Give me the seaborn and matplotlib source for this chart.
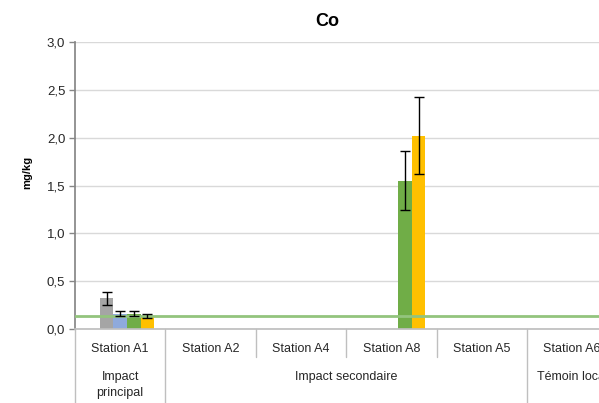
import matplotlib
matplotlib.use("Agg")
import matplotlib.pyplot as plt
import matplotlib.transforms as mtransforms
import seaborn as sns
import pandas as pd
import numpy as np

sns.set_theme(style="white")
plt.rcParams["font.family"] = ["Liberation Sans", "DejaVu Sans"]

# Stations along the x axis and the groups they belong to
stations = ["Station A1", "Station A2", "Station A4", "Station A8", "Station A5", "Station A6"]
groups = ["Impact\nprincipal", "Impact secondaire", "Témoin local"]
group_spans = [(0, 0), (1, 4), (5, 5)]

# Sampling campaigns (first one has no Co result)
campaigns = ["Campagne 1", "Campagne 2", "Campagne 3", "Campagne 4", "Campagne 5"]
colors = ["#5B9BD5", "#A5A5A5", "#8FAADC", "#70AD47", "#FFC000"]

# Mean Co concentrations (mg/kg) and standard deviations
bar_station = ["Station A1", "Station A1", "Station A1", "Station A1", "Station A8", "Station A8"]
bar_campaign = ["Campagne 2", "Campagne 3", "Campagne 4", "Campagne 5", "Campagne 4", "Campagne 5"]
bar_value = [0.32, 0.16, 0.16, 0.135, 1.55, 2.02]
bar_sd = [0.07, 0.025, 0.025, 0.02, 0.31, 0.40]

# Reference threshold
threshold = 0.14

df = pd.DataFrame({"station": bar_station, "campagne": bar_campaign,
                   "value": bar_value, "sd": bar_sd})

fig = plt.figure(figsize=(5.99, 4.03), dpi=100)
ax = fig.add_axes([75 / 599, 1 - 329 / 403, 542.4 / 599, 287 / 403])

sns.barplot(data=df, x="station", y="value", hue="campagne", order=stations,
            hue_order=campaigns, palette=colors, width=0.75, dodge=True,
            errorbar=None, legend=False, saturation=1, linewidth=0,
            ax=ax, zorder=2)

# Error bars placed on each drawn bar
n = len(campaigns)
sd_lookup = {(s, c): e for s, c, e in zip(bar_station, bar_campaign, bar_sd)}
for p in ax.patches:
    h = p.get_height()
    if not np.isfinite(h) or h == 0:
        continue
    w = p.get_width()
    xc = p.get_x() + w / 2
    ci = int(round(xc))
    hi = int(round((xc - ci) / w + (n - 1) / 2))
    err = sd_lookup.get((stations[ci], campaigns[hi]))
    if err is not None:
        ax.errorbar(xc, h, yerr=err, fmt="none", ecolor="black", elinewidth=1,
                    capsize=3.5, capthick=1, zorder=4)

ax.axhline(threshold, color="#93C47D", lw=2, zorder=3)

ax.set_xlim(-0.5, len(stations) - 0.5)
ax.set_ylim(0, 3.0)
ax.set_yticks(np.arange(0, 3.01, 0.5))
ax.set_yticklabels([f"{v:.1f}".replace(".", ",") for v in np.arange(0, 3.01, 0.5)],
                   fontsize=9.5, color="#262626")
ax.yaxis.grid(True, color="#D9D9D9", lw=1)
ax.set_axisbelow(True)
ax.tick_params(axis="y", left=True, length=4, width=1, color="#868686", pad=3)
ax.set_xticks([])
ax.set_xlabel("")
ax.set_ylabel("")
for s in ["top", "right"]:
    ax.spines[s].set_visible(False)
ax.spines["left"].set_color("#868686")
ax.spines["bottom"].set_color("#BFBFBF")

# Two-level category axis
trans = mtransforms.blended_transform_factory(ax.transData, ax.transAxes)
y_station = -20 / 287
y_group = -48 / 287
short_sep = -28 / 287
long_sep = -74 / 287
for i, s in enumerate(stations):
    ax.text(i, y_station, s, transform=trans, ha="center", va="center",
            fontsize=9, color="#262626")
group_edges = {a - 0.5 for a, b in group_spans} | {b + 0.5 for a, b in group_spans}
for k in range(len(stations)):
    edge = k - 0.5
    bottom = long_sep if edge in group_edges else short_sep
    ax.plot([edge, edge], [0, bottom], transform=trans, color="#BFBFBF", lw=1,
            clip_on=False)
for g, (a, b) in zip(groups, group_spans):
    yy = y_group if "\n" not in g else y_group - 8 / 287
    ax.text((a + b) / 2, yy, g, transform=trans, ha="center", va="center",
            fontsize=9, color="#262626", linespacing=1.35)

fig.text(327 / 599, 1 - 22 / 403, "Co", ha="center", va="center",
         fontsize=13, fontweight="bold", color="black")
fig.text(27 / 599, 1 - 172 / 403, "mg/kg", ha="center", va="center",
         rotation=90, fontsize=8, fontweight="bold", color="black")

fig.savefig("out.png", dpi=100)
